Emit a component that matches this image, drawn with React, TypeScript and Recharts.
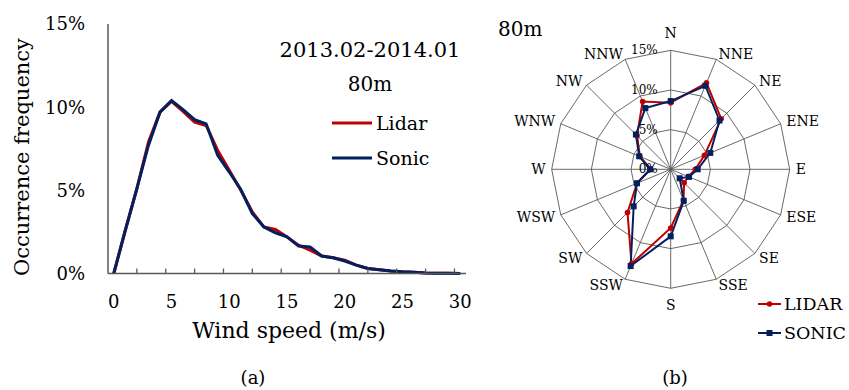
import React from "react";
import {
  LineChart,
  Line,
  XAxis,
  YAxis,
  Label,
  Legend,
  RadarChart,
  Radar,
  PolarGrid,
  PolarAngleAxis,
  PolarRadiusAxis,
} from "recharts";

// (a) wind speed distribution
const speeds = [0, 1, 2, 3, 4, 5, 6, 7, 8, 9, 10, 11, 12, 13, 14, 15, 16, 17, 18, 19, 20, 21, 22, 23, 24, 25, 26, 27, 28, 29, 30];
const lidarFreq = [0, 2.6, 5.1, 7.9, 9.7, 10.35, 9.75, 9.1, 8.9, 7.4, 6.2, 5.0, 3.7, 2.8, 2.65, 2.2, 1.7, 1.4, 1.05, 0.95, 0.8, 0.5, 0.3, 0.22, 0.15, 0.1, 0.08, 0.03, 0.02, 0.01, 0];
const sonicFreq = [0, 2.6, 5.1, 7.7, 9.7, 10.4, 9.85, 9.25, 9.0, 7.1, 6.1, 5.05, 3.6, 2.8, 2.45, 2.2, 1.65, 1.6, 1.05, 0.95, 0.75, 0.5, 0.3, 0.22, 0.15, 0.1, 0.08, 0.03, 0.02, 0.01, 0];
const speedLabels = [0, 5, 10, 15, 20, 25, 30];
const speedMarks = [2, 4.5, 7, 9.5, 12, 14.5, 17, 19.5, 22, 24.5, 27, 29.5];
const freqTicks = [0, 5, 10, 15];

// (b) wind direction distribution
const directions = ["N", "NNE", "NE", "ENE", "E", "ESE", "SE", "SSE", "S", "SSW", "SW", "WSW", "W", "WNW", "NW", "NNW"];
const lidarDir = [8.4, 11.8, 9.0, 4.6, 3.1, 2.4, 2.4, 4.2, 7.4, 12.9, 7.7, 4.6, 2.5, 4.2, 6.0, 9.25];
const sonicDir = [8.6, 11.4, 8.7, 5.4, 3.4, 2.5, 1.6, 4.3, 8.45, 13.2, 6.6, 4.6, 2.6, 4.3, 6.2, 8.35];
const ringTicks = [0, 5, 10, 15];

const SERIF = "'DejaVu Serif', serif";
const RED = "#C00000";
const NAVY = "#002060";
const AXIS_GRAY = "#595959";
const CY = 169.3;

const speedRows = speeds.map((s, i) => ({ speed: s, lidar: lidarFreq[i], sonic: sonicFreq[i] }));
const dirRows = directions.map((d, i) => ({ dir: d, lidar: lidarDir[i], sonic: sonicDir[i] }));

function SpeedTick({ x, y, payload }: any) {
  const v = payload.value;
  if (speedLabels.includes(v)) {
    return (
      <text x={x} y={y + 28} textAnchor="middle" dominantBaseline="central" fontSize={18} fontFamily={SERIF} fill="#000">
        {v}
      </text>
    );
  }
  return <line x1={x} x2={x} y1={y} y2={y - 5} stroke={AXIS_GRAY} strokeWidth={1.3} />;
}

function DirTick({ x, y, payload, textAnchor }: any) {
  let dy = 0;
  if (textAnchor === "middle") dy = y < CY ? -11 : 11;
  return (
    <text x={x} y={y + dy} textAnchor={textAnchor} dominantBaseline="central" fontSize={14} fontFamily={SERIF} fill="#000">
      {payload.value}
    </text>
  );
}

function RingTick({ x, y, payload }: any) {
  return (
    <text x={x - 13} y={y} textAnchor="end" dominantBaseline="central" fontSize={12} fontFamily={SERIF} fill="#000">
      {payload.value}%
    </text>
  );
}

function SpeedKey() {
  return (
    <svg width={120} height={70}>
      <line x1={4} x2={44} y1={15} y2={15} stroke={RED} strokeWidth={3} />
      <text x={48} y={15} dominantBaseline="central" fontSize={19} fontFamily={SERIF}>Lidar</text>
      <line x1={4} x2={44} y1={50} y2={50} stroke={NAVY} strokeWidth={3} />
      <text x={48} y={50} dominantBaseline="central" fontSize={19} fontFamily={SERIF}>Sonic</text>
    </svg>
  );
}

function DirKey() {
  return (
    <svg width={92} height={60}>
      <line x1={2} x2={25} y1={14} y2={14} stroke={RED} strokeWidth={2} />
      <circle cx={13.5} cy={14} r={2.8} fill={RED} />
      <text x={28} y={14} dominantBaseline="central" fontSize={17.5} fontFamily={SERIF}>LIDAR</text>
      <line x1={2} x2={25} y1={43} y2={43} stroke={NAVY} strokeWidth={2} />
      <rect x={10.5} y={40} width={6} height={6} fill={NAVY} />
      <text x={28} y={43} dominantBaseline="central" fontSize={17.5} fontFamily={SERIF}>SONIC</text>
    </svg>
  );
}

const redDot = (p: any) => <circle key={`l${p.index}`} cx={p.cx} cy={p.cy} r={2.8} fill={RED} />;
const navyDot = (p: any) => <rect key={`s${p.index}`} x={p.cx - 3} y={p.cy - 3} width={6} height={6} fill={NAVY} />;

const note = (left: number, top: number, size: number, text: string, center = true) => (
  <div
    style={{
      position: "absolute",
      left,
      top,
      transform: center ? "translate(-50%, -50%)" : "translate(0, -50%)",
      fontFamily: SERIF,
      fontSize: size,
      whiteSpace: "nowrap",
      lineHeight: 1,
    }}
  >
    {text}
  </div>
);

export default function App() {
  return (
    <div style={{ position: "absolute", left: 0, top: 0, width: 849, height: 390, background: "#fff", overflow: "hidden" }}>
      <div style={{ position: "absolute", left: 0, top: 0 }}>
        <LineChart width={480} height={390} data={speedRows} margin={{ top: 24, right: 14, bottom: 86.5, left: 48 }}>
          <XAxis
            dataKey="speed"
            type="number"
            domain={[-0.5, 30.5]}
            ticks={[...speedLabels, ...speedMarks].sort((a, b) => a - b)}
            interval={0}
            tick={<SpeedTick />}
            tickLine={false}
            tickSize={0}
            tickMargin={0}
            height={30}
            stroke={AXIS_GRAY}
            strokeWidth={1.5}
          >
            <Label
              content={() => (
                <text x={289} y={330} textAnchor="middle" dominantBaseline="central" fontSize={22} fontFamily={SERIF} fill="#000">
                  Wind speed (m/s)
                </text>
              )}
            />
          </XAxis>
          <XAxis xAxisId="top" orientation="top" type="number" domain={[-0.5, 30.5]} height={0} tick={false} tickLine={false} stroke="#1F3864" strokeWidth={1.5} />
          <YAxis
            domain={[0, 15]}
            ticks={freqTicks}
            tickFormatter={(v) => `${v}%`}
            width={60}
            tickLine={false}
            tickSize={0}
            tickMargin={23}
            tick={{ fill: "#000", fontSize: 18, fontFamily: SERIF }}
            stroke={AXIS_GRAY}
            strokeWidth={1.5}
          >
            <Label
              content={() => (
                <text x={22} y={157} transform="rotate(-90 22 157)" textAnchor="middle" dominantBaseline="central" fontSize={21} fontFamily={SERIF} fill="#000">
                  Occurrence frequency
                </text>
              )}
            />
          </YAxis>
          <YAxis yAxisId="right" orientation="right" domain={[0, 15]} width={0} tick={false} tickLine={false} stroke="#1F3864" strokeWidth={1.5} />
          <Legend layout="vertical" align="center" verticalAlign="middle" content={<SpeedKey />} wrapperStyle={{ left: 328, top: 108, width: 120 }} />
          <Line dataKey="lidar" name="Lidar" type="linear" stroke={RED} strokeWidth={3} dot={false} isAnimationActive={false} />
          <Line dataKey="sonic" name="Sonic" type="linear" stroke={NAVY} strokeWidth={3} dot={false} isAnimationActive={false} />
        </LineChart>
      </div>

      <div style={{ position: "absolute", left: 480, top: 0 }}>
        <RadarChart width={369} height={390} data={dirRows} cx={190.7} cy={CY} outerRadius={119} margin={{ top: 0, right: 0, bottom: 0, left: 0 }}>
          <PolarGrid gridType="polygon" stroke={AXIS_GRAY} strokeWidth={0.9} />
          <PolarAngleAxis dataKey="dir" tick={<DirTick />} tickLine={false} tickSize={6} axisLine={false} />
          <PolarRadiusAxis angle={90} domain={[0, 15]} ticks={ringTicks} tick={<RingTick />} axisLine={false} />
          <Legend layout="vertical" align="center" verticalAlign="middle" content={<DirKey />} wrapperStyle={{ left: 276, top: 290, width: 92 }} />
          <Radar dataKey="lidar" name="LIDAR" stroke={RED} strokeWidth={2} fill="none" fillOpacity={0} dot={redDot} isAnimationActive={false} />
          <Radar dataKey="sonic" name="SONIC" stroke={NAVY} strokeWidth={2} fill="none" fillOpacity={0} dot={navyDot} isAnimationActive={false} />
        </RadarChart>
      </div>

      {note(370, 50, 21, "2013.02-2014.01")}
      {note(370, 84, 20, "80m")}
      {note(498, 29, 20, "80m", false)}
      {note(253, 378, 18, "(a)")}
      {note(675, 378, 18, "(b)")}
    </div>
  );
}
